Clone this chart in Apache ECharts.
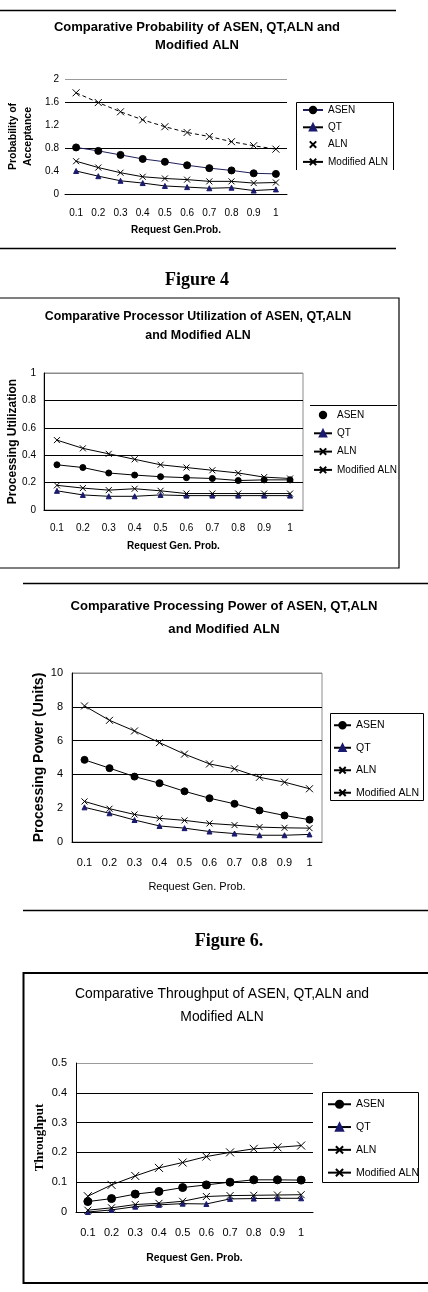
<!DOCTYPE html>
<html><head><meta charset="utf-8">
<script src="https://cdn.jsdelivr.net/npm/echarts@6/dist/echarts.min.js"></script>
<style>html,body{margin:0;padding:0;background:#fff}#c{width:428px;height:1292px}</style>
</head><body><div id="c"></div>
<script>
// ---------- DATA ----------
const categories = ['0.1','0.2','0.3','0.4','0.5','0.6','0.7','0.8','0.9','1'];
const seriesNames = ['ASEN','QT','ALN','Modified ALN'];

// Chart 1: Comparative Probability of Acceptance
const probTicks = [0, 0.4, 0.8, 1.2, 1.6, 2];
const probASEN = [0.81, 0.75, 0.68, 0.61, 0.56, 0.50, 0.45, 0.41, 0.36, 0.35];
const probQT   = [0.40, 0.31, 0.23, 0.19, 0.14, 0.12, 0.10, 0.11, 0.06, 0.08];
const probALN  = [1.76, 1.59, 1.43, 1.29, 1.17, 1.07, 1.00, 0.91, 0.84, 0.78];
const probMALN = [0.57, 0.46, 0.37, 0.30, 0.27, 0.25, 0.22, 0.22, 0.19, 0.20];

// Chart 2: Comparative Processor Utilization
const utilTicks = [0, 0.2, 0.4, 0.6, 0.8, 1];
const utilASEN = [0.33, 0.31, 0.27, 0.255, 0.243, 0.236, 0.23, 0.215, 0.22, 0.22];
const utilQT   = [0.14, 0.11, 0.10, 0.10, 0.11, 0.105, 0.105, 0.105, 0.105, 0.105];
const utilALN  = [0.51, 0.45, 0.41, 0.37, 0.33, 0.31, 0.29, 0.27, 0.24, 0.23];
const utilMALN = [0.18, 0.16, 0.145, 0.155, 0.14, 0.12, 0.12, 0.12, 0.12, 0.12];

// Chart 3: Comparative Processing Power (Units)
const powerTicks = [0, 2, 4, 6, 8, 10];
const powerASEN = [4.86, 4.37, 3.87, 3.48, 3.00, 2.59, 2.26, 1.87, 1.57, 1.32];
const powerQT   = [2.05, 1.70, 1.30, 0.95, 0.82, 0.62, 0.50, 0.40, 0.40, 0.45];
const powerALN  = [8.05, 7.20, 6.57, 5.88, 5.20, 4.62, 4.33, 3.83, 3.54, 3.15];
const powerMALN = [2.40, 1.97, 1.63, 1.40, 1.28, 1.10, 1.00, 0.88, 0.84, 0.82];

// Chart 4: Comparative Throughput
const thrTicks = [0, 0.1, 0.2, 0.3, 0.4, 0.5];
const thrASEN = [0.035, 0.045, 0.060, 0.069, 0.082, 0.091, 0.100, 0.108, 0.108, 0.107];
const thrQT   = [0.000, 0.007, 0.018, 0.024, 0.028, 0.027, 0.044, 0.045, 0.046, 0.046];
const thrALN  = [0.053, 0.091, 0.121, 0.148, 0.166, 0.186, 0.200, 0.212, 0.217, 0.223];
const thrMALN = [0.006, 0.014, 0.025, 0.029, 0.036, 0.052, 0.055, 0.056, 0.057, 0.058];

// ---------- STYLE ----------
const SANS = '"Liberation Sans", Arial, sans-serif';
const SERIF = '"Liberation Serif", "Times New Roman", serif';
const XSYM = 'path://M0,0L10,10M10,0L0,10';

const charts = [
  { data:[probASEN, probQT, probALN, probMALN], ticks: probTicks,
    grid:{left:65, top:79, width:222, height:115, show:false},
    title:'Comparative Probability of ASEN, QT,ALN and\nModified ALN',
    titleStyle:{fontFamily:SANS, fontSize:13, fontWeight:'bold', lineHeight:18}, titleX:197, titleY:18.5,
    yName:'Probability of\nAcceptance', yNameStyle:{fontFamily:SANS, fontSize:10.5, fontWeight:'bold', lineHeight:15}, yNameGap:29,
    xName:'Request Gen.Prob.', xNameStyle:{fontFamily:SANS, fontSize:10, fontWeight:'bold'}, xNameGap:31,
    labelFont:{fontFamily:SANS, fontSize:10}, xMargin:14, yMargin:6,
    splitColors:['#000','rgba(0,0,0,0)','#000','rgba(0,0,0,0)','#000','#9a9a9a'], yAxisLine:false,
    legend:{left:302, top:105, itemWidth:20, itemHeight:8, itemGap:7.3, font:{fontFamily:SANS, fontSize:10, lineHeight:10}},
    sym:[['circle',7,'#000'],['triangle',5,'#1a1a6e'],[XSYM,7,'#000'],[XSYM,6,'#000']],
    lineColors:['#1e1e5a','#000','#000','#000'], dashed:[false,false,true,false],
    hideLegendLine:[false,false,true,false] },
  { data:[utilASEN, utilQT, utilALN, utilMALN], ticks: utilTicks,
    grid:{left:44, top:373, width:259, height:137, show:true, borderColor:'#8c8c8c', borderWidth:1},
    title:'Comparative Processor Utilization of ASEN, QT,ALN\nand Modified ALN',
    titleStyle:{fontFamily:SANS, fontSize:12.4, fontWeight:'bold', lineHeight:19}, titleX:198, titleY:307,
    yName:'Processing Utilization', yNameStyle:{fontFamily:SANS, fontSize:12, fontWeight:'bold'}, yNameGap:25,
    xName:'Request Gen. Prob.', xNameStyle:{fontFamily:SANS, fontSize:10, fontWeight:'bold'}, xNameGap:31,
    labelFont:{fontFamily:SANS, fontSize:10}, xMargin:13, yMargin:8,
    splitColors:['#000','#000','#000','#000','#000','#8c8c8c'], yAxisLine:true,
    legend:{left:313, top:410, itemWidth:18, itemHeight:8, itemGap:8.3, font:{fontFamily:SANS, fontSize:10, lineHeight:10}},
    sym:[['circle',6,'#000'],['triangle',5,'#1a1a6e'],[XSYM,6,'#000'],[XSYM,6,'#000']],
    lineColors:['#000','#000','#000','#000'], dashed:[false,false,false,false],
    hideLegendLine:[true,false,false,false] },
  { data:[powerASEN, powerQT, powerALN, powerMALN], ticks: powerTicks,
    grid:{left:72, top:673, width:250, height:169, show:true, borderColor:'#8c8c8c', borderWidth:1},
    title:'Comparative Processing Power of ASEN, QT,ALN\nand Modified ALN',
    titleStyle:{fontFamily:SANS, fontSize:13.1, fontWeight:'bold', lineHeight:23}, titleX:224, titleY:594.5,
    yName:'Processing Power (Units)', yNameStyle:{fontFamily:SANS, fontSize:14, fontWeight:'bold'}, yNameGap:26,
    xName:'Request Gen. Prob.', xNameStyle:{fontFamily:SANS, fontSize:11}, xNameGap:39,
    labelFont:{fontFamily:SANS, fontSize:11}, xMargin:15.5, yMargin:9,
    splitColors:['#000','rgba(0,0,0,0)','#000','#000','#000','#8c8c8c'], yAxisLine:true,
    legend:{left:333, top:719.75, itemWidth:17, itemHeight:8, itemGap:11.5, font:{fontFamily:SANS, fontSize:10.5, lineHeight:10.5}},
    sym:[['circle',7,'#000'],['triangle',5,'#1a1a6e'],[XSYM,7,'#000'],[XSYM,6,'#000']],
    lineColors:['#000','#000','#000','#000'], dashed:[false,false,false,false],
    hideLegendLine:[false,false,false,false] },
  { data:[thrASEN, thrQT, thrALN, thrMALN], ticks: thrTicks,
    grid:{left:76, top:1063, width:237, height:149, show:false},
    title:'Comparative Throughput of ASEN, QT,ALN and\nModified ALN',
    titleStyle:{fontFamily:SANS, fontSize:13.9, fontWeight:'normal', lineHeight:23}, titleX:222, titleY:983,
    yName:'Throughput', yNameStyle:{fontFamily:SERIF, fontSize:13, fontWeight:'bold'}, yNameGap:29.5,
    xName:'Request Gen. Prob.', xNameStyle:{fontFamily:SANS, fontSize:10.4, fontWeight:'bold'}, xNameGap:41,
    labelFont:{fontFamily:SANS, fontSize:11}, xMargin:15.5, yMargin:9,
    splitColors:['#000','#000','#000','#000','#000','#9a9a9a'], yAxisLine:true,
    legend:{left:327, top:1098.75, itemWidth:23, itemHeight:9, itemGap:11.8, font:{fontFamily:SANS, fontSize:10.5, lineHeight:10.5}},
    sym:[['circle',8,'#000'],['triangle',5,'#1a1a6e'],[XSYM,8,'#000'],[XSYM,7,'#000']],
    lineColors:['#000','#000','#000','#000'], dashed:[false,false,false,false],
    hideLegendLine:[false,false,false,false] }
];

const option = {
  animation:false, backgroundColor:'#fff',
  title:[], grid:[], xAxis:[], yAxis:[], legend:[], series:[], graphic:[]
};

charts.forEach((c, gi) => {
  option.title.push({ text:c.title, left:c.titleX, top:c.titleY, textAlign:'center', padding:0,
    textStyle:Object.assign({color:'#000'}, c.titleStyle) });
  option.grid.push(Object.assign({containLabel:false, outerBoundsMode:'none'}, c.grid));
  option.xAxis.push({ type:'category', gridIndex:gi, data:categories, boundaryGap:true,
    name:c.xName, nameLocation:'middle', nameGap:c.xNameGap, nameMoveOverlap:false,
    nameTextStyle:Object.assign({color:'#000'}, c.xNameStyle),
    axisLine:{show:true, lineStyle:{color:'#000', width:1}}, axisTick:{show:false},
    axisLabel:Object.assign({color:'#000', margin:c.xMargin, interval:0}, c.labelFont),
    splitLine:{show:false} });
  const t = c.ticks;
  option.yAxis.push({ type:'value', gridIndex:gi, min:t[0], max:t[t.length-1], interval:t[1]-t[0],
    name:c.yName, nameLocation:'middle', nameGap:c.yNameGap, nameMoveOverlap:false,
    nameTextStyle:Object.assign({color:'#000'}, c.yNameStyle),
    axisLine:{show:c.yAxisLine, lineStyle:{color:'#000', width:1}}, axisTick:{show:false},
    axisLabel:Object.assign({color:'#000', margin:c.yMargin}, c.labelFont),
    splitLine:{show:true, lineStyle:{color:c.splitColors, width:1}} });
  const legData = [];
  seriesNames.forEach((n, si) => {
    const id = n + '#' + gi;
    const s = c.sym[si];
    option.series.push({ type:'line', name:id, xAxisIndex:gi, yAxisIndex:gi, data:c.data[si],
      symbol:s[0], symbolSize:s[1], showAllSymbol:true, silent:true,
      lineStyle:{color:c.lineColors[si], width:1, type:c.dashed[si] ? [4,3] : 'solid'},
      itemStyle:{color:s[2], borderColor:s[2], borderWidth:1} });
    const item = {name:id};
    if (c.hideLegendLine[si]) item.lineStyle = {opacity:0};
    legData.push(item);
  });
  option.legend.push({ orient:'vertical', left:c.legend.left, top:c.legend.top, padding:0,
    itemWidth:c.legend.itemWidth, itemHeight:c.legend.itemHeight, itemGap:c.legend.itemGap,
    selectedMode:false, data:legData, formatter:name => name.split('#')[0],
    textStyle:Object.assign({color:'#000', padding:0}, c.legend.font) });
});

option.graphic = [
  {type:'line', shape:{x1:0, y1:10.5, x2:396, y2:10.5}, style:{stroke:'#000', lineWidth:1.3}},
  {type:'line', shape:{x1:0, y1:248.5, x2:396, y2:248.5}, style:{stroke:'#000', lineWidth:1.3}},
  {type:'polyline', shape:{points:[[296.5,170],[296.5,102.5],[393.5,102.5],[393.5,170]]}, style:{stroke:'#000', fill:null, lineWidth:1}},
  {type:'text', style:{text:'Figure 4', x:197, y:280, align:'center', verticalAlign:'middle', font:'bold 18px "Liberation Serif", serif', fill:'#000'}},
  {type:'rect', shape:{x:-1, y:298, width:400, height:270}, style:{fill:null, stroke:'#000', lineWidth:1.2}},
  {type:'line', shape:{x1:310, y1:405.5, x2:397, y2:405.5}, style:{stroke:'#000', lineWidth:1}},
  {type:'line', shape:{x1:23, y1:583.5, x2:428, y2:583.5}, style:{stroke:'#000', lineWidth:1.3}},
  {type:'line', shape:{x1:23, y1:910.5, x2:428, y2:910.5}, style:{stroke:'#000', lineWidth:1.3}},
  {type:'rect', shape:{x:330.5, y:713.5, width:93, height:87}, style:{fill:null, stroke:'#000', lineWidth:1}},
  {type:'text', style:{text:'Figure 6.', x:229, y:941, align:'center', verticalAlign:'middle', font:'bold 18px "Liberation Serif", serif', fill:'#000'}},
  {type:'rect', shape:{x:23.5, y:973, width:420, height:310}, style:{fill:null, stroke:'#000', lineWidth:2}},
  {type:'rect', shape:{x:322.5, y:1092.5, width:96, height:90}, style:{fill:null, stroke:'#000', lineWidth:1}}
];

const chart = echarts.init(document.getElementById('c'), null, {renderer:'canvas', width:428, height:1292});
chart.setOption(option);
</script>
</body></html>
